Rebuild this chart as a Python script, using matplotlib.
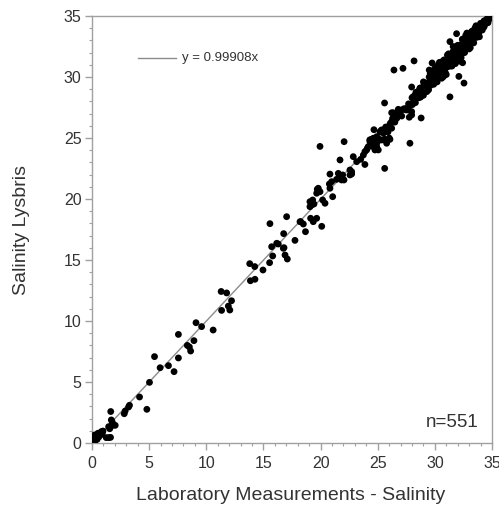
import matplotlib
matplotlib.use("Agg")
import matplotlib.pyplot as plt
import numpy as np

plt.rcParams['font.family'] = ['Liberation Sans', 'DejaVu Sans']

# ---- data (Laboratory salinity vs Lysbris salinity) ----
low_x = [0.00, 0.05, 0.10, 0.15, 0.25, 0.30, 0.40, 0.45, 0.55, 0.60, 0.70, 0.80, 0.90, 0.20, 0.35, 0.65,
         0.23, 0.52, 0.82, 0.96,
         1.25, 1.46, 1.62, 1.64, 1.55, 1.46, 1.83, 1.77, 2.03, 1.69]
low_y = [0.00, 0.25, 0.10, 0.35, 0.20, 0.40, 0.45, 0.30, 0.55, 0.50, 0.65, 0.70, 0.80, 0.05, 0.55, 0.75,
         0.66, 0.80, 0.93, 0.98,
         0.44, 0.44, 0.46, 2.58, 1.17, 1.34, 1.45, 1.72, 1.45, 1.89]

mid_x = [2.82, 2.90, 3.20, 3.28, 4.16, 4.80, 5.03, 5.47, 5.96, 6.69, 7.18, 7.56, 7.56, 8.34, 8.52, 8.63,
         8.92, 9.10, 9.59, 10.60, 11.30, 11.34, 11.78, 11.93, 12.06, 12.21, 13.80, 13.86, 14.26, 14.24,
         14.96, 15.54, 15.57, 15.72, 15.81, 16.16, 16.30, 16.77, 16.74, 16.80, 16.89, 17.09, 17.03, 17.76,
         18.20, 18.26, 18.49, 18.68, 19.13, 19.36, 19.66, 20.10, 19.07, 19.07, 19.22, 19.31, 19.42, 20.18,
         20.39, 19.71, 19.80, 19.95, 19.66, 21.06, 20.77, 20.82, 20.97, 20.82, 21.40, 21.55, 21.70, 21.84,
         21.93, 22.05, 21.70, 22.57, 22.57, 22.72, 22.72, 22.86, 22.06, 19.95, 23.16, 23.51, 23.74, 23.88,
         23.88, 24.03, 24.09, 24.17, 24.32, 24.47, 24.61, 24.76, 24.91, 24.91, 25.05, 25.20, 24.67, 25.34,
         25.49, 25.78, 26.22, 25.61, 25.60, 27.82, 28.80, 31.32, 32.55, 32.10, 26.42, 27.21, 28.18, 27.97,
         29.51, 29.76, 31.90, 31.32, 32.43, 30.74, 26.36, 26.80, 26.66, 27.97, 27.76, 26.07, 25.63, 25.34,
         24.32]
mid_y = [2.40, 2.62, 2.95, 3.09, 3.77, 2.76, 4.97, 7.08, 6.17, 6.34, 5.85, 6.97, 8.90, 8.00, 7.87, 7.54,
         8.39, 9.86, 9.54, 9.26, 12.42, 10.87, 12.30, 11.22, 10.90, 11.66, 14.70, 13.30, 13.42, 14.46,
         14.18, 14.78, 17.98, 16.09, 15.33, 16.37, 16.31, 17.16, 15.96, 16.01, 15.41, 15.08, 18.55, 16.61,
         18.14, 18.14, 17.95, 17.32, 18.42, 18.14, 18.42, 17.76, 19.37, 19.78, 19.51, 19.92, 19.59, 19.92,
         19.65, 20.80, 20.88, 20.60, 20.47, 20.19, 21.23, 20.88, 21.42, 22.04, 21.61, 22.10, 21.83, 21.56,
         21.97, 21.56, 23.20, 22.38, 21.97, 22.05, 22.24, 23.47, 24.70, 24.31, 23.06, 23.25, 23.60, 22.83,
         23.88, 24.02, 24.15, 24.29, 24.70, 24.89, 24.29, 24.02, 24.57, 24.29, 24.02, 24.84, 25.68, 25.66,
         25.52, 24.57, 25.80, 22.51, 27.87, 24.57, 26.64, 28.37, 29.50, 30.05, 30.57, 30.71, 31.32, 29.18,
         30.57, 31.15, 33.55, 32.90, 31.17, 30.02, 27.07, 27.35, 26.61, 26.89, 26.70, 24.89, 24.84, 24.84,
         24.84]

band_x = [24.32, 24.61, 24.91, 25.20, 25.49, 25.78, 25.93, 26.07, 26.22, 26.36, 26.66, 26.80, 27.10,
          27.38, 27.53, 27.67, 27.82, 27.97, 28.11, 28.26, 28.41, 28.55, 28.70, 28.84, 28.99, 29.13,
          29.28, 29.43, 29.57, 29.86, 30.16, 30.45, 30.60, 30.74, 26.22, 26.42, 25.60, 26.00,
          24.5, 24.7, 24.9, 25.1, 25.3, 25.5, 25.7, 25.9, 26.1, 26.3, 26.5, 26.7, 26.9, 27.1, 27.3,
          27.5, 27.7, 27.9]
band_y = [24.84, 24.98, 25.11, 25.52, 25.66, 25.60, 25.93, 26.07, 26.34, 26.48, 26.89, 27.02, 27.30,
          27.35, 27.43, 27.30, 27.70, 27.16, 28.39, 28.52, 28.66, 28.80, 28.80, 28.99, 29.16, 29.34,
          29.48, 29.34, 29.61, 29.75, 30.02, 30.30, 30.57, 30.84, 27.07, 27.02, 24.90, 25.00,
          24.7, 24.4, 25.0, 24.9, 25.6, 25.4, 25.9, 25.5, 26.2, 26.6, 26.3, 26.7, 27.1, 26.8, 27.4,
          27.3, 27.8, 27.7]

high_x = [28.0, 28.1, 28.2, 28.3, 28.4, 28.5, 28.6, 28.7, 28.8, 28.9, 29.0, 29.1, 29.2, 29.3, 29.4,
          29.5, 29.6, 29.7, 29.8, 29.9, 30.0, 30.1, 30.2, 30.3, 30.4, 30.5, 30.6, 30.7, 30.8, 30.9,
          31.0, 31.1, 31.2, 31.3, 31.4, 31.5, 31.6, 31.7, 31.8, 31.9, 32.0, 32.1, 32.2, 32.3, 32.4,
          32.5, 32.6, 32.7, 32.8, 32.9, 33.0, 33.1, 33.2, 33.3, 33.4, 33.5, 33.6, 33.7, 33.8, 33.9,
          34.0, 34.1, 34.2, 34.3, 34.4, 34.5, 34.6, 34.7, 34.8, 34.9,
          28.05, 28.15, 28.25, 28.35, 28.45, 28.55, 28.65, 28.75, 28.85, 28.95, 29.05, 29.15, 29.25,
          29.35, 29.45, 29.55, 29.65, 29.75, 29.85, 29.95, 30.05, 30.15, 30.25, 30.35, 30.45, 30.55,
          30.65, 30.75, 30.85, 30.95, 31.05, 31.15, 31.25, 31.35, 31.45, 31.55, 31.65, 31.75, 31.85,
          31.95, 32.05, 32.15, 32.25, 32.35, 32.45, 32.55, 32.65, 32.75, 32.85, 32.95, 33.05, 33.15,
          33.25, 33.35, 33.45, 33.55, 33.65, 33.75, 33.85, 33.95, 34.05, 34.15, 34.25, 34.35, 34.45,
          34.55, 34.65, 34.75, 34.85,
          30.0, 30.2, 30.4, 30.6, 30.8, 31.0, 31.2, 31.4, 31.6, 31.8, 32.0, 32.2, 32.4, 32.6, 32.8,
          33.0, 33.2, 33.4, 33.6, 33.8, 34.0,
          29.0, 29.3, 29.6, 29.9, 30.3, 30.7, 31.1, 31.5, 31.9, 32.3, 32.7, 33.1, 33.5, 33.9, 34.3]
high_y = [28.3, 27.9, 28.3, 27.9, 28.6, 28.5, 28.3, 29.1, 28.7, 29.1, 28.5, 29.2, 29.5, 29.1, 29.4,
          30.0, 29.3, 29.8, 29.7, 30.2, 29.6, 30.3, 30.2, 30.1, 30.8, 30.2, 30.7, 31.3, 30.7, 30.4,
          31.2, 31.1, 31.5, 31.1, 31.5, 31.1, 32.1, 31.7, 31.5, 32.1, 32.1, 32.0, 32.6, 32.1, 32.4,
          32.8, 32.1, 32.8, 33.0, 32.6, 33.0, 33.5, 33.1, 33.5, 33.2, 33.6, 33.6, 34.0, 33.5, 34.0,
          33.9, 34.3, 34.2, 34.1, 34.5, 34.5, 34.5, 34.8, 34.8, 34.85,
          27.75, 28.35, 28.15, 28.75, 28.45, 28.35, 28.95, 28.35, 28.95, 28.85, 29.35, 28.85, 29.45,
          29.35, 28.95, 29.65, 30.05, 29.55, 30.05, 29.65, 30.55, 30.05, 30.35, 29.95, 30.65, 30.85,
          30.05, 30.85, 31.25, 30.75, 31.05, 30.85, 31.45, 31.75, 31.35, 31.85, 31.45, 31.15, 32.25,
          31.95, 31.75, 32.35, 31.85, 32.45, 32.95, 32.35, 32.65, 33.05, 32.45, 33.05, 32.85, 33.45,
          33.75, 33.05, 33.45, 33.75, 33.25, 33.85, 33.65, 34.25, 34.05, 33.85, 34.45, 34.25, 34.45,
          34.75, 34.45, 34.75, 34.95,
          30.7, 29.6, 31.2, 29.9, 31.4, 30.2, 31.9, 30.9, 32.5, 31.1, 32.6, 31.3, 33.1, 32.0, 33.6,
          32.3, 33.7, 32.8, 34.2, 33.3, 34.4,
          29.6, 28.8, 30.3, 29.4, 31.0, 30.1, 31.8, 30.9, 32.5, 31.6, 33.4, 32.4, 34.0, 33.3, 34.6]

slope = 0.99908
n_label = "n=551"
fit_label = "y = 0.99908x"

xs = np.array(low_x + mid_x + band_x + high_x)
ys = np.array(low_y + mid_y + band_y + high_y)

# ---- figure ----
fig = plt.figure(figsize=(4.99, 5.16), dpi=100)
ax = fig.add_axes([92/499, 1-443/516, 400/499, 427/516])

spine_c = '#a0a0a0'
txt_c = '#333333'

xl = np.array([0, 35])
ax.plot(xl, slope*xl, color='#8c8c8c', lw=1.0, zorder=2)
ax.scatter(xs, ys, s=24, color='black', edgecolors='none', zorder=3)

ax.set_xlim(0, 35)
ax.set_ylim(0, 35)
ax.set_xticks(np.arange(0, 36, 5))
ax.set_yticks(np.arange(0, 36, 5))
ax.set_xticks(np.arange(0, 36, 1), minor=True)
ax.set_yticks(np.arange(0, 36, 1), minor=True)
for s in ax.spines.values():
    s.set_color(spine_c)
    s.set_linewidth(1.0)
ax.tick_params(which='major', direction='out', length=5, width=1, color=spine_c,
               labelsize=11.5, labelcolor=txt_c, pad=2.5)
ax.tick_params(which='minor', direction='out', length=2.5, width=0.8, color=spine_c)
ax.tick_params(axis='x', which='major', pad=4)

# legend-like annotation
ax.plot([0.115, 0.21], [0.9016, 0.9016], transform=ax.transAxes, color='#8c8c8c', lw=1.0)
ax.text(0.225, 0.9016, fit_label, transform=ax.transAxes, fontsize=9.5, color=txt_c,
        va='center', ha='left')

ax.text(479/499, 1-427/516, n_label, transform=fig.transFigure, fontsize=13.5,
        color=txt_c, ha='right', va='baseline')

fig.text(22/499, 1-230/516, "Salinity Lysbris", rotation=90, fontsize=14,
         color=txt_c, ha='center', va='center')
fig.text(291/499, 1-496/516, "Laboratory Measurements - Salinity", fontsize=14,
         color=txt_c, ha='center', va='center')

fig.savefig("out.png", dpi=100)
